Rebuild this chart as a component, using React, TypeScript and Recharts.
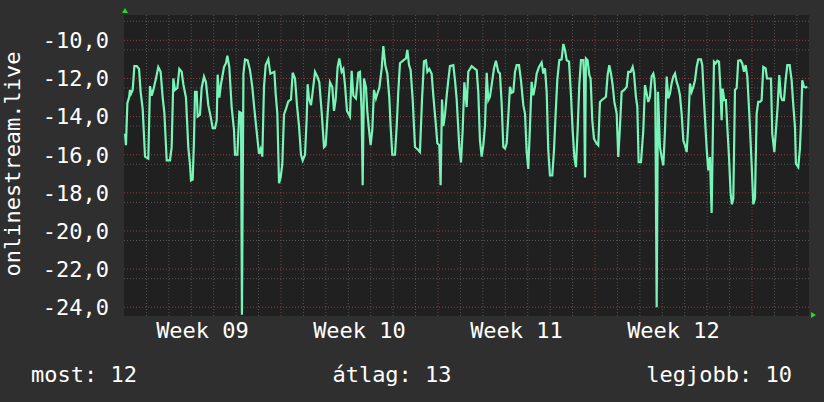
import React from 'react';
import { LineChart, Line, XAxis, YAxis, CartesianGrid } from 'recharts';

// time in hours since the start of the graph, and the measured value
const hours = [
  1.1, 2.1, 3.6, 5.4, 6.4, 7.5, 9.3, 11.1, 13.6, 16.1, 17.8, 20.0, 22.5, 26.0, 27.8, 29.6, 31.4, 34.2, 36.7, 39.2,
  41.4, 43.2, 45.7, 49.2, 51.0, 52.8, 54.6, 57.1, 59.2, 61.7, 63.5, 66.3, 68.8, 70.6, 71.7, 73.5, 74.9, 76.0, 77.8, 78.8,
  81.3, 83.1, 85.6, 87.7, 90.2, 92.7, 94.9, 97.4, 99.2, 100.2, 102.0, 103.8, 107.0, 109.1, 110.6, 112.7, 115.2, 117.7, 118.8, 121.3,
  123.4, 125.2, 126.2, 127.8, 129.5, 132.3, 134.8, 137.3, 139.5, 142.0, 144.5, 146.2, 148.0, 149.8, 151.6, 154.4, 156.6, 158.7, 160.9, 162.3,
  164.1, 165.9, 167.6, 169.4, 171.2, 173.3, 175.8, 178.7, 180.5, 183.0, 185.1, 187.3, 189.4, 191.2, 193.7, 195.5, 196.5, 198.0, 200.1, 201.9,
  204.4, 206.9, 209.0, 211.5, 214.0, 215.8, 217.9, 220.4, 222.9, 224.7, 226.5, 228.6, 230.4, 232.9, 234.7, 236.5, 238.6,
  241.8, 243.6, 245.4, 248.2, 250.7, 252.5, 254.3, 255.4, 256.8, 258.9, 260.4, 262.2, 263.9, 265.7, 267.5, 269.6, 271.1, 273.2, 275.7, 277.5,
  279.6, 281.8, 283.9, 285.3, 287.1, 290.0, 291.8, 293.5, 295.3, 298.9, 301.7, 303.2, 305.0, 306.7, 308.9, 311.4, 314.9, 316.7, 318.9, 321.0,
  323.1, 324.6, 326.7, 329.2, 331.0, 333.5, 335.3, 337.4, 338.8, 340.3, 341.7, 343.5, 345.3, 347.0, 348.8, 352.4, 354.2, 356.0, 358.8, 360.6,
  362.4, 364.2, 366.7, 368.4,
  372.0, 374.9, 377.4, 379.1, 380.9, 382.7, 384.5, 386.3, 388.1, 389.8, 391.6, 393.4, 395.9, 398.0, 400.5, 402.3, 404.1, 405.9, 407.7, 409.5,
  411.2, 413.0, 414.8, 416.6, 418.4, 420.2, 422.7, 424.8, 427.3, 429.1, 430.9, 432.6, 434.4, 436.2, 438.0, 439.8, 441.6, 444.1, 446.9, 448.7,
  450.5, 452.3, 454.0, 455.8, 458.3, 460.1, 461.9, 463.7, 465.8, 468.3, 470.1, 471.9, 473.7, 476.2, 478.3, 480.1, 481.9, 483.6, 485.4, 487.2,
  489.0, 491.5,
  492.2, 493.3, 494.3, 496.1, 497.9, 499.3, 501.1, 502.9, 505.8, 507.5, 509.3, 511.1, 513.6, 515.7, 517.5, 519.3, 521.1, 522.9, 524.7, 527.2,
  528.9, 530.7, 532.5, 535.0, 537.9, 539.6, 542.1, 544.3, 545.7, 547.8, 549.3, 550.7, 553.2, 555.7, 557.5, 559.3, 561.0, 562.8, 564.6, 566.4,
  567.5, 568.5, 570.0, 571.4, 573.5, 575.3, 577.1, 578.9, 580.7, 582.4, 584.2, 586.0, 587.8, 589.6, 591.4, 593.1, 594.9, 596.7, 598.5, 600.3,
  602.1, 603.8, 605.6, 607.4, 609.2, 611.0, 612.8, 614.5,
  617.4, 618.8, 621.0, 623.5, 625.2, 627.0, 628.8, 629.9, 631.3, 633.1, 634.9, 636.7, 638.1, 639.5, 640.6, 642.4, 644.1, 645.6, 647.4, 649.1,
  650.5, 652.0, 653.8, 655.6, 657.3, 659.8, 661.6, 663.4, 665.2, 667.0, 669.1, 671.6, 673.4, 675.2, 677.0, 678.7, 680.5, 682.3, 684.1, 686.6,
  688.0, 690.2, 692.3, 693.7, 695.9, 697.6, 699.4, 701.2, 703.0, 704.4, 706.2, 708.0, 709.8, 712.3, 714.4, 716.2, 718.0, 719.0, 721.5, 723.3,
  724.4, 725.8, 727.6, 729.4, 731.2,
];

const values = [
  -14.9, -15.5, -13.3, -13.0, -12.6, -12.8, -12.6, -11.35, -11.35, -11.5, -12.7, -13.6, -16.1, -16.2, -12.4, -12.9, -12.6, -12.0, -11.4, -11.65,
  -13.0, -13.8, -16.3, -16.3, -15.6, -12.0, -12.6, -12.5, -11.5, -11.65, -12.3, -13.0, -15.6, -16.5, -17.35, -17.3, -15.2, -12.7, -12.7, -14.0,
  -13.9, -12.5, -11.9, -12.2, -13.4, -14.0, -14.6, -14.6, -14.2, -11.8, -13.0, -12.3, -11.4, -11.2, -10.8, -11.4, -13.5, -14.7, -16.0, -16.0,
  -13.75, -13.8, -24.4, -11.75, -11.0, -11.05, -11.55, -12.45, -13.6, -14.8, -15.95, -15.7, -16.1, -12.45, -11.3, -11.0, -11.75, -11.7, -11.65, -12.8,
  -13.85, -17.5, -17.2, -16.5, -13.9, -13.6, -13.2, -13.1, -11.7, -12.0, -13.4, -14.5, -16.0, -16.3, -16.0, -14.1, -12.3, -13.05, -13.4, -12.7,
  -11.65, -11.9, -12.2, -13.75, -15.6, -15.5, -13.85, -12.2, -12.45, -13.7, -13.1, -11.4, -10.95, -11.65, -11.5, -12.35, -13.7,
  -14.0, -11.6, -12.9, -13.05, -11.7, -11.65, -13.75, -17.6, -12.0, -12.45, -13.75, -14.7, -15.5, -14.7, -12.6, -13.05, -12.8, -12.5, -11.5, -10.3,
  -11.3, -11.75, -13.0, -14.5, -16.0, -16.0, -14.5, -12.7, -11.2, -11.05, -10.95, -10.5, -11.3, -11.55, -13.1, -15.6, -15.75, -15.85, -13.1, -11.1,
  -11.05, -11.65, -11.5, -11.75, -12.9, -14.3, -15.4, -15.5, -17.6, -13.1, -14.5, -13.9, -12.9, -12.1, -11.35, -11.3, -12.1, -13.1, -15.6, -16.4,
  -14.7, -12.2, -13.5, -11.65,
  -11.35, -11.47, -11.56, -12.7, -15.25, -16.1, -15.5, -14.46, -11.7, -13.14, -12.96, -12.35, -11.47, -11.07, -11.65, -11.74, -13.3, -15.6, -15.68, -15.4,
  -14.0, -12.44, -12.75, -12.7, -11.65, -11.3, -11.3, -12.1, -13.4, -13.84, -15.86, -16.74, -14.54, -12.18, -12.88, -12.44, -11.74, -11.39, -11.16, -11.74,
  -11.47, -12.7, -15.77, -17.09, -17.09, -15.77, -13.84, -12.05, -11.04, -11.0, -10.19, -10.51, -11.04, -11.12, -12.88, -14.72, -16.12, -16.65, -14.72, -12.35,
  -11.04, -11.04,
  -11.9, -17.2, -10.95, -11.04, -11.82, -12.0, -14.2, -15.16, -15.42, -15.51, -13.23, -13.14, -13.05, -12.96, -11.82, -11.3, -11.74, -12.35, -13.23, -13.84,
  -16.12, -14.54, -12.7, -12.61, -12.44, -11.65, -11.65, -11.39, -11.74, -12.96, -13.49, -16.39, -16.39, -14.72, -12.35, -12.79, -13.23, -12.96, -11.9, -11.74,
  -12.0, -12.7, -24.0, -12.7, -15.6, -16.12, -16.56, -14.72, -11.9, -13.05, -12.79, -12.26, -11.9, -11.74, -12.18, -12.44, -12.88, -13.84, -15.25, -15.51,
  -15.86, -14.46, -12.26, -12.7, -12.44, -12.09, -11.39, -11.0,
  -11.0, -11.3, -13.49, -15.68, -16.82, -16.12, -19.05, -15.6, -11.12, -11.21, -11.07, -11.12, -12.44, -14.19, -12.53, -13.14, -13.14, -14.54, -16.12, -18.0,
  -18.6, -18.3, -12.6, -12.5, -11.07, -11.04, -11.21, -11.65, -11.3, -11.9, -13.84, -16.47, -18.6, -18.3, -13.84, -13.23, -13.23, -13.14, -11.39, -11.47,
  -12.0, -12.0, -12.0, -14.9, -15.86, -14.72, -13.49, -11.82, -12.96, -13.14, -13.14, -12.09, -11.3, -11.3, -12.09, -13.4, -14.54, -16.47, -16.65, -15.68,
  -14.37, -12.09, -12.44, -12.47, -12.44,
];

const weekTicks = [84, 252, 420, 588];
const weekLabels = ['Week 09', 'Week 10', 'Week 11', 'Week 12'];
const weekStarts = [168, 336, 504, 672];
const yTicks = [-24, -22, -20, -18, -16, -14, -12, -10];
const yDomain = [-24.46, -8.67];
const timeDomain = [0, 733];

const yAxisTitle = 'onlinestream.live';
const legendLabels = ['most', 'átlag', 'legjobb'];
const legendValues = [12, 13, 10];

const data = hours.map((h, i) => ({ h, v: values[i] }));

const dayLines: number[] = [];
for (let h = 24; h < timeDomain[1]; h += 24) if (h % 168 !== 0) dayLines.push(h);
const minorY: number[] = [];
for (let v = -24; v <= -9; v += 0.5) if (v % 2 !== 0) minorY.push(v);

const FONT = '"DejaVu Sans Mono", monospace';
const FS = 22;

export default function App() {
  return (
    <div style={{ position: 'fixed', left: 0, top: 0, width: 824, height: 402, background: '#2f2f2f' }}>
      <LineChart width={824} height={402} data={data} margin={{ top: 15, right: 15, left: 0, bottom: 0 }}>
        <CartesianGrid
          fill="#202020"
          stroke="#555555"
          strokeDasharray="1 2"
          horizontalValues={minorY}
          verticalValues={dayLines}
        />
        <CartesianGrid
          stroke="#8a3c3c"
          strokeDasharray="1 2"
          horizontalValues={yTicks}
          verticalValues={weekStarts}
        />
        <XAxis
          dataKey="h"
          type="number"
          domain={timeDomain}
          ticks={weekTicks}
          tickFormatter={(v: number) => weekLabels[weekTicks.indexOf(v)]}
          height={86}
          axisLine={false}
          tickLine={false}
          tickSize={3}
          tickMargin={3}
          allowDataOverflow
          tick={{ fill: '#ffffff', fontSize: FS, fontFamily: FONT }}
        />
        <YAxis
          type="number"
          domain={yDomain}
          ticks={yTicks}
          allowDataOverflow
          width={124}
          axisLine={false}
          tickLine={false}
          tickSize={0}
          tickMargin={15}
          tickFormatter={(v: number) => v.toFixed(1).replace('.', ',')}
          tick={{ fill: '#ffffff', fontSize: FS, fontFamily: FONT }}
        />
        <Line
          type="linear"
          dataKey="v"
          stroke="#78f4b8"
          strokeWidth={2.2}
          dot={false}
          isAnimationActive={false}
        />
      </LineChart>
      <svg
        width={824}
        height={402}
        style={{ position: 'absolute', left: 0, top: 0, pointerEvents: 'none' }}
      >
        <polygon points="122,13 128,13 125,8" fill="#22dd22" />
        <polygon points="811,312 811,318 816,315" fill="#22dd22" />
        <text
          x={20}
          y={164}
          transform="rotate(-90, 20, 164)"
          textAnchor="middle"
          fill="#ffffff"
          fontSize={FS}
          fontFamily={FONT}
        >
          {yAxisTitle}
        </text>
        <text x={31} y={382} textAnchor="start" fill="#ffffff" fontSize={FS} fontFamily={FONT}>
          {`${legendLabels[0]}: ${legendValues[0]}`}
        </text>
        <text x={392} y={382} textAnchor="middle" fill="#ffffff" fontSize={FS} fontFamily={FONT}>
          {`${legendLabels[1]}: ${legendValues[1]}`}
        </text>
        <text x={792} y={382} textAnchor="end" fill="#ffffff" fontSize={FS} fontFamily={FONT}>
          {`${legendLabels[2]}: ${legendValues[2]}`}
        </text>
      </svg>
    </div>
  );
}
